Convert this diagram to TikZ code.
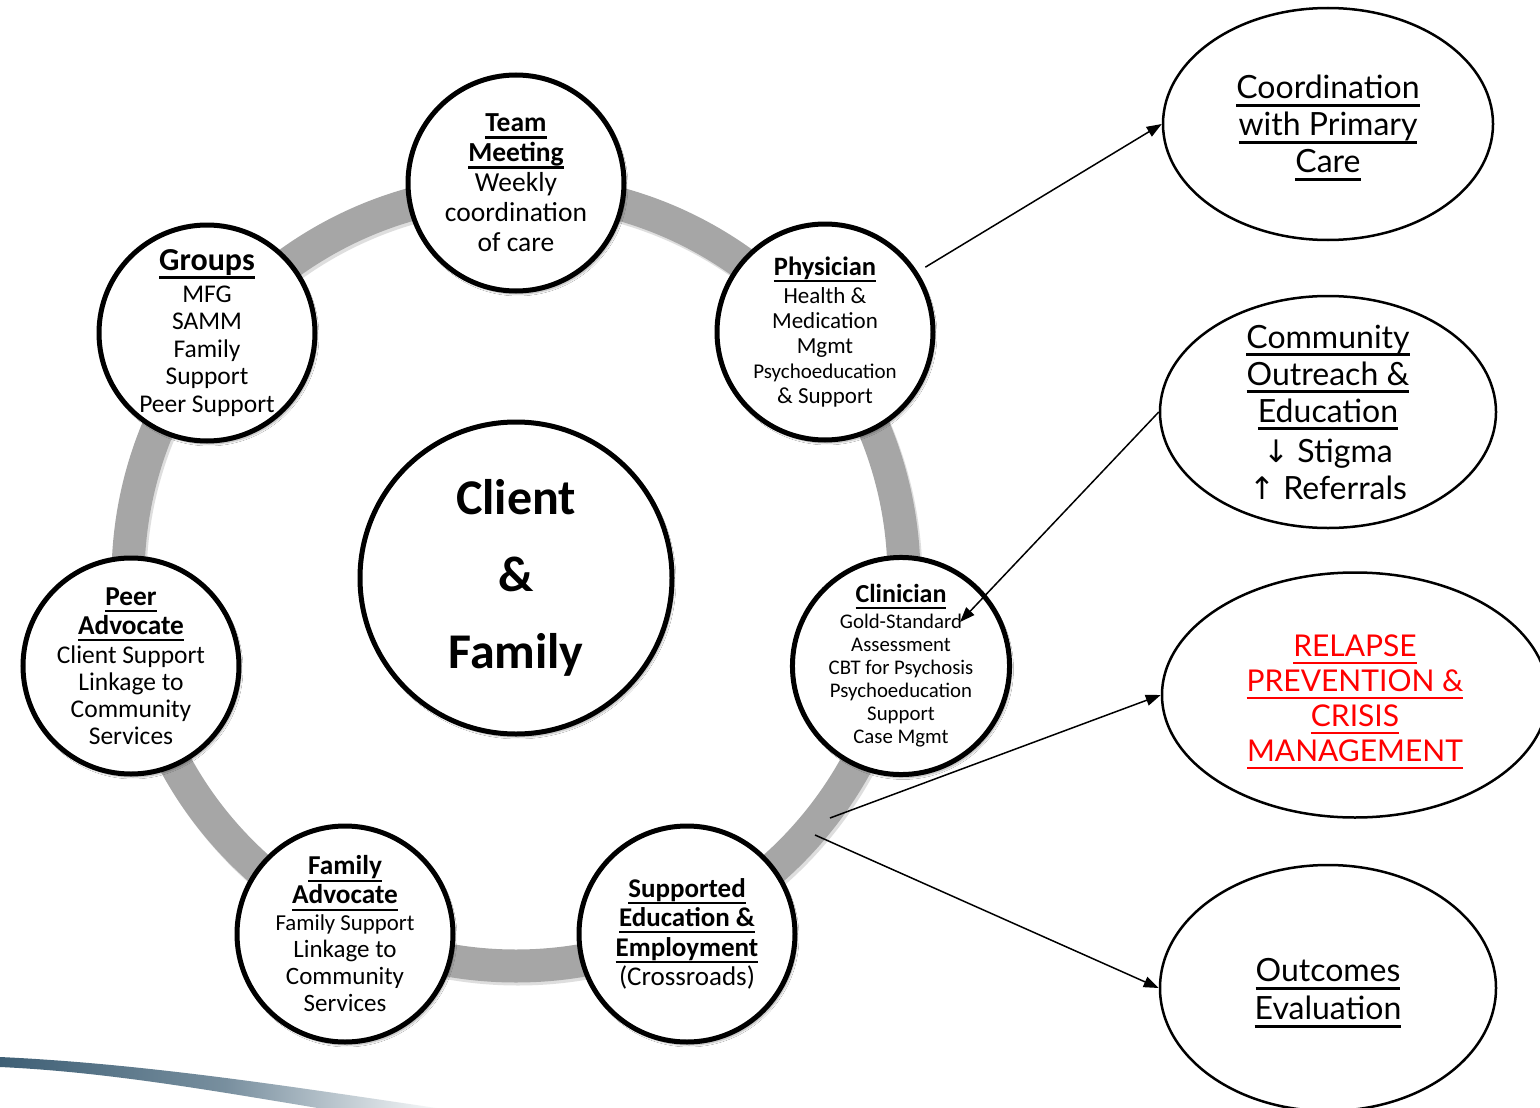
\documentclass[tikz,border=0pt]{standalone}
\usepackage{fontspec}
\setmainfont{Carlito}
\newfontfamily\lato{Lato}
\newfontfamily\dejavu{DejaVu Sans}
\newcommand\myul[1]{\leavevmode\setbox0\hbox{#1}\rlap{\vrule width\wd0 height -0.17em depth 0.245em}\box0}
\usetikzlibrary{shadows,shadows.blur,arrows.meta,shapes.geometric}
\newcommand\fsz[2]{\fontsize{#1}{#2}\selectfont}
\definecolor{ringgray}{HTML}{A6A6A6}
\definecolor{swoosh}{HTML}{3E5F75}
\tikzset{
  unit/.style={circle, draw=black, line width=5pt, fill=white, minimum size=216pt,
    inner sep=0pt, align=center,
    blur shadow={shadow xshift=2pt, shadow yshift=-3pt, shadow blur steps=8, shadow opacity=35}},
  bigunit/.style={unit, minimum size=312pt},
  outcome/.style={ellipse, draw=black, line width=2.5pt, fill=white, inner sep=0pt},
  outtext/.style={inner sep=0pt, align=center, font=\lato\fsz{32}{37}},
  link/.style={line width=1.5pt, -{Triangle[length=15pt,width=11pt]}},
}
\begin{document}
\begin{tikzpicture}[x=1pt,y=-1pt]
\useasboundingbox (0,0) rectangle (1540,1108);
\fill[white] (0,0) rectangle (1540,1108);
% bottom-left swoosh
\shade[left color=swoosh, right color=white, middle color=swoosh!70]
  (0,1057) .. controls (150,1064) and (300,1088) .. (450,1110)
  -- (330,1110) .. controls (220,1092) and (110,1072) .. (0,1067) -- cycle;
% ring
\draw[line width=33pt, black!25, opacity=0.5] (518,581) circle[radius=388pt];
\draw[line width=33pt, ringgray] (516,578) circle[radius=388pt];
% units
\node[bigunit, font=\bfseries\fsz{50}{77}] (client) at (516,578) {Client\\\&\\Family};
\node[unit, font=\fsz{27.5}{30}] (team) at (516,183)
  {\textbf{\myul{Team}}\\\textbf{\myul{Meeting}}\\Weekly\\coordination\\of care};
\node[unit, font=\fsz{23}{25}] (phys) at (825,332)
  {{\fsz{26.5}{25}\textbf{\myul{Physician}}}\\[3pt]Health \&\\Medication\\Mgmt\\{\fsz{21}{25}Psychoeducation}\\\& Support};
\node[unit, font=\fsz{20.8}{23}] (clin) at (901,666)
  {{\fsz{26}{23}\textbf{\myul{Clinician}}}\\[3pt]Gold-Standard\\Assessment\\CBT for Psychosis\\Psychoeducation\\Support\\Case Mgmt};
\node[unit, font=\fsz{27}{29.5}] (supp) at (687,934)
  {\textbf{\myul{Supported}}\\\textbf{\myul{Education \&}}\\\textbf{\myul{Employment}}\\(Crossroads)};
\node[unit, font=\fsz{25}{27}] (famadv) at (345,934)
  {{\fsz{27.3}{27}\textbf{\myul{Family}}}\\[2pt]{\fsz{27.3}{27}\textbf{\myul{Advocate}}}\\{\fsz{22.8}{27}Family Support}\\Linkage to\\Community\\Services};
\node[unit, font=\fsz{25.5}{27}] (peer) at (131,666)
  {{\fsz{27.3}{27}\textbf{\myul{Peer}}}\\[2pt]{\fsz{27.3}{27}\textbf{\myul{Advocate}}}\\[2pt]Client Support\\Linkage to\\Community\\Services};
\node[unit, font=\fsz{25.5}{27.5}] (groups) at (207,333)
  {{\fsz{32}{27}\textbf{\myul{Groups}}}\\[4pt]MFG\\SAMM\\Family\\Support\\Peer Support};
% outcome ellipses
\node[outcome, minimum width=330pt, minimum height=232pt] (coord) at (1328,124) {};
\node[outcome, minimum width=336pt, minimum height=232pt] (comm) at (1328,412) {};
\node[outcome, minimum width=386pt, minimum height=245pt] (relapse) at (1355,695) {};
\node[outcome, minimum width=336pt, minimum height=246pt] (eval) at (1328,988) {};
\node[outtext] (coordtext) at (1328,128)
  {\myul{Coordination}\\\myul{with Primary}\\\myul{Care}};
\node[outtext] (commtext) at (1328,412)
  {\myul{Community}\\\myul{Outreach \&}\\\myul{Education}\\[3pt]{\dejavu\fsz{31}{37}↓} Stigma\\{\dejavu\fsz{31}{37}↑} Referrals};
\node[outtext, text=red, font=\lato\fsz{30}{35}] (relapsetext) at (1355,702)
  {\myul{RELAPSE}\\\myul{PREVENTION \&}\\\myul{CRISIS}\\\myul{MANAGEMENT}};
\node[outtext, font=\lato\fsz{32}{38}] (evaltext) at (1328,993)
  {\myul{Outcomes}\\\myul{Evaluation}};
% connectors
\coordinate (clingoal) at (960,622);
\coordinate (ringA) at (830,818);
\coordinate (ringB) at (815,835);
\draw[link, shorten <=9pt] (phys.33) -- (coord.west);
\draw[link] (comm.west) -- (clingoal);
\draw[link] (ringA) -- (relapse.west);
\draw[link] (ringB) -- (eval.west);
\end{tikzpicture}
\end{document}
